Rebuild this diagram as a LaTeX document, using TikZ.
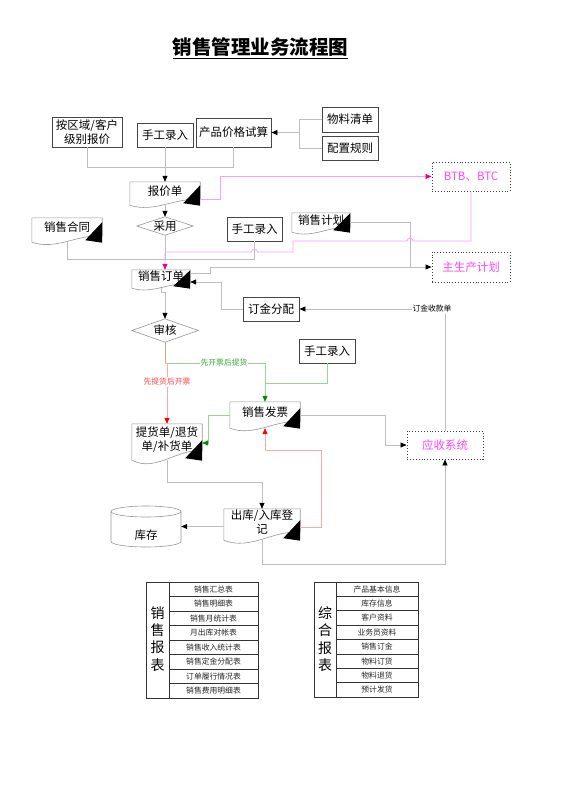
\documentclass[tikz,border=0pt]{standalone}
\usepackage{fontspec}
\setmainfont{Noto Sans CJK SC}
\usetikzlibrary{arrows.meta,calc}
\definecolor{linegray}{RGB}{190,190,190}
\definecolor{boxgray}{RGB}{70,70,70}
\definecolor{docgray}{RGB}{150,150,150}
\definecolor{pinkline}{RGB}{250,160,250}
\definecolor{magtext}{RGB}{255,70,255}
\definecolor{lgreen}{RGB}{150,215,150}
\definecolor{dkgreen}{RGB}{0,140,0}
\definecolor{gtext}{RGB}{60,170,60}
\definecolor{lred}{RGB}{255,170,170}
\definecolor{rtext}{RGB}{255,70,70}
\definecolor{brline}{RGB}{185,175,140}
\newcommand\fntbox{\fontsize{11.5pt}{14pt}\selectfont}
\newcommand\fntsmall{\fontsize{7.8pt}{9pt}\selectfont}
\newcommand\fnttitle{\fontsize{19.5pt}{22pt}\selectfont\bfseries}
\newcommand\fntbig{\fontsize{14pt}{17.3pt}\selectfont}
\newcommand\mydoc[6]{%
  \node[docnode,minimum width=#4pt,minimum height=#5pt] (#1) at (#2,#3) {};
  \draw[docline] ([yshift=0.25*#5]#1.south east) -- (#1.north east) -- (#1.north west) -- (#1.south west)
    .. controls ([xshift=0.35*#4,yshift=-0.35*#5]#1.south west) and ([xshift=-0.35*#4,yshift=0.35*#5]#1.south east) .. ([yshift=0.25*#5]#1.south east);
  \node[doctext] (#1t) at ([yshift=2.5pt]#1.center) {#6};
  \fill[black] ([xshift=-17pt,yshift=2pt]#1.south east) -- ([yshift={min(20,#5)}]#1.south east) -- ([yshift=-0.5pt]#1.south east) -- cycle;
}
\begin{document}
\begin{tikzpicture}[x=1pt,y=-1pt,
  box/.style={draw=boxgray,line width=0.9pt,fill=white,inner sep=1pt,align=center,font=\fntbox},
  dotbox/.style={draw=black!75,dotted,line width=0.9pt,inner sep=1pt,text=magtext,font=\fntbox},
  docnode/.style={inner sep=0pt,draw=none},
  doctext/.style={inner sep=0pt,align=center,font=\fntbox},
  docline/.style={draw=docgray,line width=0.6pt},
  dianode/.style={inner sep=0pt,draw=none,font=\fntbox},
  gline/.style={draw=linegray,line width=0.8pt},
  garrow/.style={gline,-{Triangle[length=6pt,width=5pt,color=black]}},
  pline/.style={draw=pinkline,line width=0.8pt},
  parrow/.style={pline,-{Triangle[length=6pt,width=5pt,color=magenta]}},
  grline/.style={draw=lgreen,line width=0.8pt},
  grarrow/.style={grline,-{Triangle[length=6pt,width=5pt,color=dkgreen]}},
  rarrow/.style={draw=lred,line width=0.8pt,-{Triangle[length=6pt,width=5pt,color=red]}},
  lbl/.style={fill=white,inner sep=1pt,font=\fntsmall},
  tline/.style={draw=black!80,line width=0.6pt},
  rowtext/.style={inner sep=0pt,font=\fntsmall,text=black!85}
]
\useasboundingbox (0,0) rectangle (560,792);

% title
\node[anchor=base,inner sep=0pt] (title) at (260.5,55) {\fnttitle 销售管理业务流程图};
\draw[line width=1.2pt] ([yshift=-3.5pt]title.base west) -- ([yshift=-3.5pt]title.base east);

% boxes
\node[box,minimum width=70pt,minimum height=30pt] (t1) at (87,132) {按区域/客户\\级别报价};
\node[box,minimum width=56pt,minimum height=24pt] (m1) at (165,135) {手工录入};
\node[box,minimum width=75pt,minimum height=29pt] (calc) at (233.5,132.5) {产品价格试算};
\node[box,minimum width=56pt,minimum height=25pt] (bom) at (350,119.5) {物料清单};
\node[box,minimum width=56pt,minimum height=24pt] (cfg) at (350,148) {配置规则};
\node[box,minimum width=55pt,minimum height=24pt] (m2) at (254.5,229) {手工录入};
\node[box,minimum width=56pt,minimum height=24pt] (dep) at (271,309) {订金分配};
\node[box,minimum width=56pt,minimum height=24pt] (m3) at (327,351) {手工录入};

\node[dotbox,minimum width=78pt,minimum height=29pt] (btb) at (471,176.5) {BTB、BTC};
\node[dotbox,minimum width=78pt,minimum height=30pt] (mps) at (471,267) {主生产计划};
\node[dotbox,minimum width=76pt,minimum height=28pt] (ar) at (445,445) {应收系统};

% diamonds
\node[dianode,minimum width=56pt,minimum height=18pt] (adopt) at (165,226) {采用};
\draw[docline] (adopt.north) -- (adopt.east) -- (adopt.south) -- (adopt.west) -- cycle;
\node[dianode,minimum width=66pt,minimum height=23pt] (audit) at (165,330.5) {审核};
\draw[docline] (audit.north) -- (audit.east) -- (audit.south) -- (audit.west) -- cycle;

% stock cylinder
\node[docnode,minimum width=70pt,minimum height=41pt] (stock) at (146,526.5) {};
\draw[docline] (146,511.5) ellipse [x radius=35pt,y radius=5.5pt];
\draw[docline] (111,511.5) -- (111,541.5) arc[start angle=180,end angle=360,x radius=35pt,y radius=5.5pt] -- (181,511.5);
\node[doctext] (stockt) at (146,535) {库存};

% connectors (gray, drawn before documents)
\draw[gline] (t1.south) -- ++(0,20) -| (calc.south);
\draw[gline] (bom.west) -- ++(-22,0) coordinate (b1) -- (b1 |- cfg.west) -- (cfg.west);
\draw[garrow] (b1 |- calc.east) -- (calc.east);
\draw[gline] (adopt.south) -- ++(0,24) coordinate (j1);
\draw[gline] (j1 |- adopt.south) -- (j1);

% documents
\mydoc{quote}{165}{193.5}{70}{23}{报价单}
\mydoc{contract}{67}{230}{70}{24}{销售合同}
\mydoc{plan}{321}{222.5}{58}{19}{销售计划}
\mydoc{order}{161}{279}{58}{18}{销售订单}
\mydoc{inv}{265}{415}{70}{26}{销售发票}
\mydoc{pick}{167}{442}{70}{36}{提货单/退货\\单/补货单}
\mydoc{io}{262}{524.5}{76}{31}{出库/入库登\\记}

\draw[garrow] (m1.south) -- (quote.north);
\draw[garrow] (quote.south) -- (adopt.north);
\draw[gline] (contract.south) -- ++(0,17) -| (m2.south);
\draw[gline] (plan.east) -- ++(60,0) coordinate (p1) -- (p1 |- mps.west);
\draw[garrow] ([yshift=6pt]order.east) -- ++(20,0) |- (mps.west);
\draw[garrow] (dep.west) -- ++(-21,0) |- ([yshift=-3pt]order.east);
\draw[garrow] (ar.north) |- (dep.east);
\node[lbl] (lbldep) at (432,309) {订金收款单};
\draw[garrow] (order.south) -- ++(0,4) -| (audit.north);

% pink
\draw[parrow] ([yshift=-5.5pt]quote.east) -- ++(20,0) |- (btb.west);
\draw[parrow] (btb.south) -- (471,241) -- (413,241) arc[start angle=0,end angle=180,radius=3pt] -- (293,241) -- (293,252)
  -- (257.5,252) arc[start angle=0,end angle=180,radius=3pt] -- (165,252) -- (j1 |- order.north);

% audit branches
\draw[draw=brline,line width=0.8pt] (audit.south) -- ++(0,21) coordinate (j2);
\draw[grarrow] (j2) -- (inv.north |- j2) -- (inv.north);
\node[lbl,text=gtext] (lblg) at (224,363) {先开票后提货};
\draw[grline] (m3.south) -- ++(0,20) coordinate (m3b) -- (m3b -| inv.north);
\draw[rarrow] (j2) -| (pick.north);
\node[lbl,text=rtext] (lblr) at (167,382) {先提货后开票};
\draw[grarrow] (inv.west) -- ++(-21,0) |- ([yshift=-1pt]pick.east);
\draw[garrow] (inv.east) -- ++(85,0) |- (ar.west);
\draw[rarrow] ([yshift=-2.5pt]io.east) -| ($(inv.south)+(56,22)$) -| (inv.south);
\draw[garrow] (io.south) -- ++(0,24) -| (ar.south);
\draw[garrow] (pick.south) -- ++(0,22) -| (io.north);
\draw[garrow] (io.west |- stock.east) -- (stock.east);

% table 1
\draw[tline] (146,582) rectangle (258,698);
\draw[tline] (169,582) -- (169,698);
\foreach \i in {1,...,7} \draw[tline] (169,{582+14.5*\i}) -- (258,{582+14.5*\i});
\foreach \t [count=\i] in {销售汇总表,销售明细表,销售月统计表,月出库对帐表,销售收入统计表,销售定金分配表,订单履行情况表,销售费用明细表}
  \node[rowtext] (sr\i) at (213.5,{582+14.5*\i-7.25}) {\t};
\node[inner sep=0pt,align=center,font=\fntbig] (st) at (157.5,639) {销\\售\\报\\表};

% table 2
\draw[tline] (314,582) rectangle (418,697);
\draw[tline] (336,582) -- (336,697);
\foreach \i in {1,...,7} \draw[tline] (336,{582+14.375*\i}) -- (418,{582+14.375*\i});
\foreach \t [count=\i] in {产品基本信息,库存信息,客户资料,业务员资料,销售订金,物料订货,物料退货,预计发货}
  \node[rowtext] (cr\i) at (377,{582+14.375*\i-7.19}) {\t};
\node[inner sep=0pt,align=center,font=\fntbig] (ct) at (325,639) {综\\合\\报\\表};
\end{tikzpicture}
\end{document}
